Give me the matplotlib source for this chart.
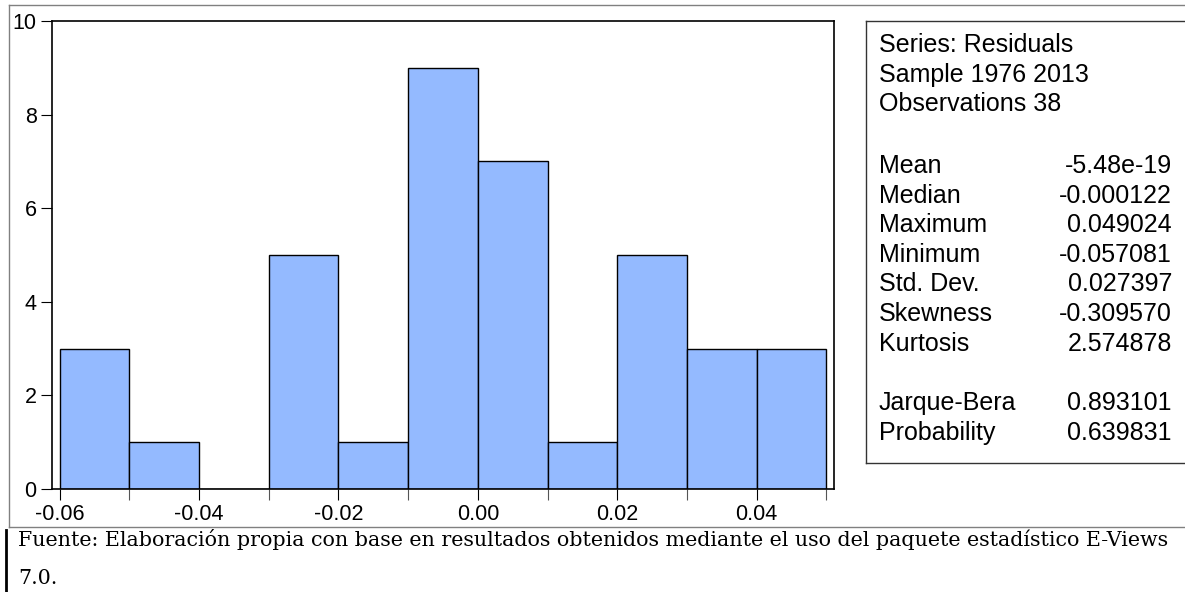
import matplotlib
matplotlib.use("Agg")
import matplotlib.pyplot as plt
import numpy as np
from matplotlib.lines import Line2D

# histogram of residuals (bin edges and counts)
bin_edges = [-0.06, -0.05, -0.04, -0.03, -0.02, -0.01, 0.00, 0.01, 0.02, 0.03, 0.04, 0.05]
counts = [3, 1, 0, 5, 1, 9, 7, 1, 5, 3, 3]

x_ticks = [-0.06, -0.04, -0.02, 0.00, 0.02, 0.04]
x_labels = ["-0.06", "-0.04", "-0.02", "0.00", "0.02", "0.04"]
y_ticks = [0, 2, 4, 6, 8, 10]

# summary statistics panel
head_lines = ["Series: Residuals", "Sample 1976 2013", "Observations 38"]
stat_names = ["Mean", "Median", "Maximum", "Minimum", "Std. Dev.", "Skewness", "Kurtosis"]
stat_values = ["-5.48e-19", "-0.000122", "0.049024", "-0.057081", "0.027397", "-0.309570", "2.574878"]
test_names = ["Jarque-Bera", "Probability"]
test_values = ["0.893101", "0.639831"]

caption1 = "Fuente: Elaboración propia con base en resultados obtenidos mediante el uso del paquete estadístico E-Views"
caption2 = "7.0."

W, H = 1185, 592
fig = plt.figure(figsize=(W / 100, H / 100), dpi=100)
plt.rcParams['font.family'] = ['Liberation Sans', 'DejaVu Sans']

def fx(px):
    return px / W

def fy(py):
    return 1 - py / H

ax = fig.add_axes([fx(52), fy(489), fx(834) - fx(52), fy(21) - fy(489)])

widths = np.diff(bin_edges)
ax.bar(bin_edges[:-1], counts, width=widths, align='edge',
       color='#94BAFF', edgecolor='black', linewidth=1.0)

ax.set_xlim(-0.0611, 0.0511)
ax.set_ylim(0, 10)
ax.set_yticks(y_ticks)
ax.set_xticks(x_ticks)
ax.set_xticklabels(x_labels)
ax.set_xticks(bin_edges, minor=True)
ax.tick_params(axis='both', which='major', direction='out', length=8, width=0.8,
               labelsize=15.5, colors='black')
ax.tick_params(axis='x', which='minor', direction='out', length=8, width=0.8, color='#555555')
ax.tick_params(axis='x', which='major', pad=3)
ax.tick_params(axis='y', which='major', pad=3)
for s in ax.spines.values():
    s.set_linewidth(1.2)

# outer frame lines
frame = dict(color='#808080', linewidth=1.0, transform=fig.transFigure)
fig.add_artist(Line2D([fx(9), 1], [fy(5), fy(5)], **frame))
fig.add_artist(Line2D([fx(9), fx(9)], [fy(5), fy(527)], **frame))
fig.add_artist(Line2D([fx(9), 1], [fy(527), fy(527)], **frame))

# statistics box
box = dict(color='#333333', linewidth=1.0, transform=fig.transFigure)
fig.add_artist(Line2D([fx(866), 1], [fy(21), fy(21)], **box))
fig.add_artist(Line2D([fx(866), fx(866)], [fy(21), fy(463)], **box))
fig.add_artist(Line2D([fx(866), 1], [fy(463), fy(463)], **box))

row_h = 29.6
tx, vx = fx(879), fx(1172)
fs = 18
for i, t in enumerate(head_lines):
    fig.text(tx, fy(45 + i * row_h), t, fontsize=fs, va='center', ha='left')
for i, (n, v) in enumerate(zip(stat_names, stat_values)):
    y = fy(166 + i * row_h)
    fig.text(tx, y, n, fontsize=fs, va='center', ha='left')
    fig.text(vx, y, v, fontsize=fs, va='center', ha='right')
for i, (n, v) in enumerate(zip(test_names, test_values)):
    y = fy(403 + i * row_h)
    fig.text(tx, y, n, fontsize=fs, va='center', ha='left')
    fig.text(vx, y, v, fontsize=fs, va='center', ha='right')

# source note below the figure
fig.add_artist(Line2D([fx(6), fx(6)], [fy(530), fy(592)], color='black',
                      linewidth=2.0, transform=fig.transFigure))
fig.text(fx(18), fy(540), caption1, fontsize=14.9, family='DejaVu Serif', va='center', ha='left')
fig.text(fx(18), fy(578), caption2, fontsize=14.9, family='DejaVu Serif', va='center', ha='left')

fig.savefig("out.png", dpi=100)
